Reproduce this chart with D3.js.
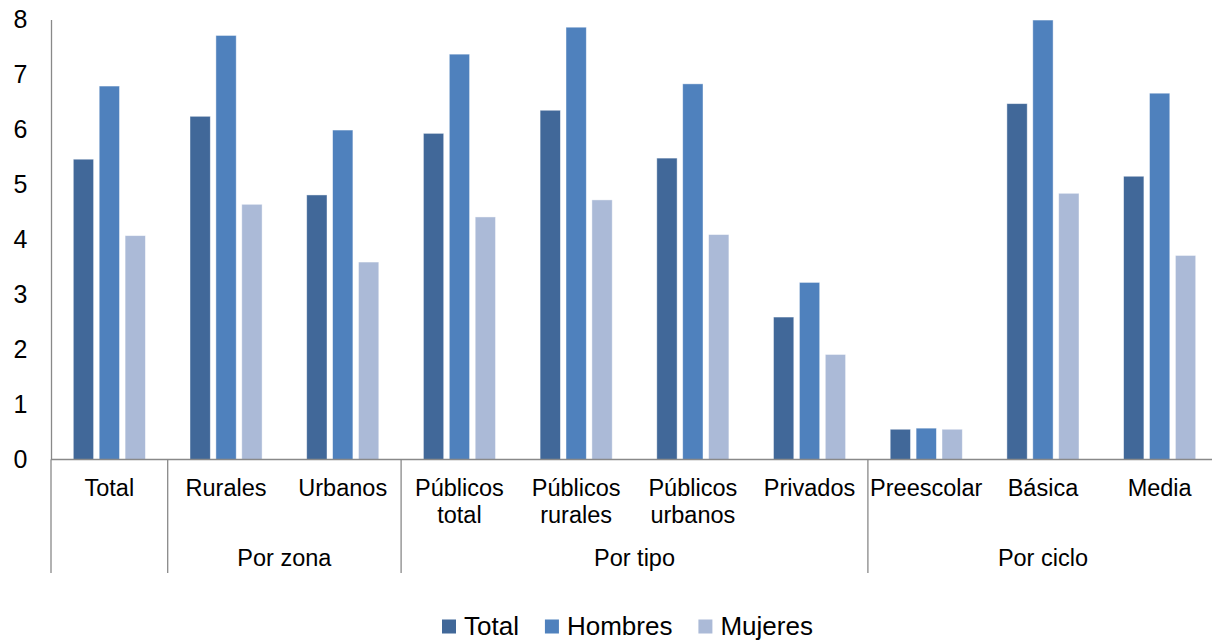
<!DOCTYPE html>
<html>
<head>
<meta charset="utf-8">
<script src="https://cdn.jsdelivr.net/npm/d3@7"></script>
<style>
  html, body { margin: 0; padding: 0; background: #fff; }
  svg { display: block; font-family: "Liberation Sans", Arial, sans-serif; }
</style>
</head>
<body>
<svg id="chart" width="1212" height="643"></svg>
<script>
// ---- Data ----
const categories = ["Total", "Rurales", "Urbanos", "Públicos\ntotal", "Públicos\nrurales", "Públicos\nurbanos", "Privados", "Preescolar", "Básica", "Media"];
const groups = [
  { label: "", from: 0, to: 0 },
  { label: "Por zona", from: 1, to: 2 },
  { label: "Por tipo", from: 3, to: 6 },
  { label: "Por ciclo", from: 7, to: 9 }
];
const seriesNames = ["Total", "Hombres", "Mujeres"];
const totalValues   = [5.46, 6.24, 4.81, 5.93, 6.35, 5.48, 2.59, 0.55, 6.47, 5.15];
const hombresValues = [6.79, 7.71, 5.99, 7.37, 7.86, 6.83, 3.22, 0.57, 7.99, 6.66];
const mujeresValues = [4.07, 4.64, 3.59, 4.41, 4.72, 4.09, 1.91, 0.55, 4.84, 3.71];
const yTicks = [0, 1, 2, 3, 4, 5, 6, 7, 8];
const colors = ["#416899", "#4f81bd", "#abbad7"];

const seriesValues = [totalValues, hombresValues, mujeresValues];

// ---- Layout ----
const svg = d3.select("#chart");
const mLeft = 51, mRight = 1218, mTop = 19.5, mBottom = 459.5;
const axisColor = "#898989";

const x0 = d3.scaleBand().domain(d3.range(categories.length)).range([mLeft, mRight]).paddingInner(0).paddingOuter(0);
const x1 = d3.scaleBand().domain(d3.range(seriesNames.length)).range([0, x0.bandwidth()]).paddingInner(0.216).paddingOuter(0.861);
const y = d3.scaleLinear().domain([0, 8]).range([mBottom, mTop]);

// Bars
const gBars = svg.append("g");
categories.forEach((c, i) => {
  seriesValues.forEach((vals, s) => {
    gBars.append("rect")
      .attr("x", x0(i) + x1(s))
      .attr("y", y(vals[i]))
      .attr("width", x1.bandwidth())
      .attr("height", y(0) - y(vals[i]))
      .attr("fill", colors[s])
      .attr("stroke", "rgba(255,255,255,0.55)")
      .attr("stroke-width", 0.8);
  });
});

// Y axis
const yAxis = d3.axisLeft(y).tickValues(yTicks).tickSize(0).tickPadding(0).tickFormat(d3.format("d"));
const gy = svg.append("g").attr("transform", `translate(${mLeft},0)`).call(yAxis);
gy.select(".domain").attr("stroke", axisColor).attr("stroke-width", 1.3);
gy.selectAll("text").attr("x", 27.5 - mLeft).attr("font-size", 25).attr("fill", "#000")
  .attr("font-family", "'Liberation Sans', Arial, sans-serif").attr("dy", "0.33em");

// X axis baseline
svg.append("line").attr("x1", mLeft).attr("x2", mRight).attr("y1", mBottom).attr("y2", mBottom)
  .attr("stroke", axisColor).attr("stroke-width", 1.3);

// Group separators
const sepBottom = 573;
const boundaries = [mLeft].concat(groups.map(g => x0(g.to) + x0.bandwidth()));
boundaries.forEach(bx => {
  svg.append("line").attr("x1", bx).attr("x2", bx).attr("y1", mBottom).attr("y2", sepBottom)
    .attr("stroke", axisColor).attr("stroke-width", 1.3);
});

// Category labels
const gCat = svg.append("g").attr("font-size", 23.5).attr("fill", "#000").attr("text-anchor", "middle");
categories.forEach((c, i) => {
  const lines = c.split("\n");
  const t = gCat.append("text").attr("x", x0(i) + x0.bandwidth() / 2).attr("y", 496);
  lines.forEach((ln, k) => {
    t.append("tspan").attr("x", x0(i) + x0.bandwidth() / 2).attr("y", 496 + k * 27).text(ln);
  });
});

// Group labels
groups.forEach(g => {
  if (!g.label) return;
  const cx = (x0(g.from) + x0(g.to) + x0.bandwidth()) / 2;
  svg.append("text").attr("x", cx).attr("y", 566).attr("text-anchor", "middle")
    .attr("font-size", 23.5).attr("fill", "#000").text(g.label);
});

// Legend
const gLeg = svg.append("g").attr("font-size", 26).attr("fill", "#000");
let lx = 442;
seriesNames.forEach((name, s) => {
  gLeg.append("rect").attr("x", lx).attr("y", 619.5).attr("width", 14).attr("height", 14).attr("fill", colors[s]);
  const t = gLeg.append("text").attr("x", lx + 22).attr("y", 635).text(name);
  const w = t.node().getComputedTextLength();
  lx = lx + 22 + w + 26;
});
</script>
</body>
</html>
